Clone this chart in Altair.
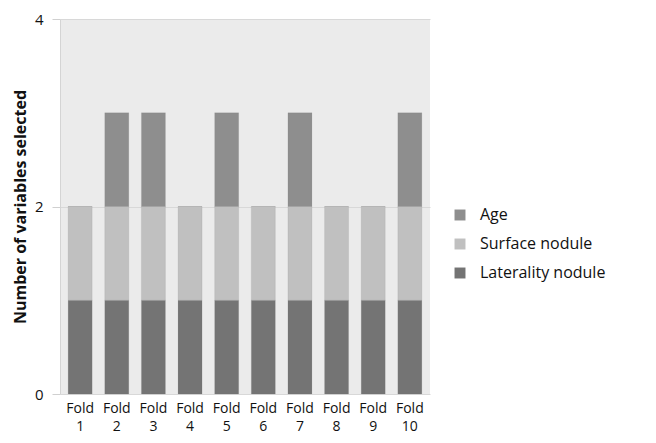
import altair as alt
import pandas as pd

folds = ["Fold 1", "Fold 2", "Fold 3", "Fold 4", "Fold 5", "Fold 6", "Fold 7", "Fold 8", "Fold 9", "Fold 10"]
laterality = [1, 1, 1, 1, 1, 1, 1, 1, 1, 1]
surface = [1, 1, 1, 1, 1, 1, 1, 1, 1, 1]
age = [0, 1, 1, 0, 1, 0, 1, 0, 0, 1]

series = ["Age", "Surface nodule", "Laterality nodule"]
colors = ["#8e8e8e", "#c0c0c0", "#747474"]

rows = []
for i, f in enumerate(folds):
    rows.append({"fold": f, "var": "Laterality nodule", "val": laterality[i], "ord": 0})
    rows.append({"fold": f, "var": "Surface nodule", "val": surface[i], "ord": 1})
    rows.append({"fold": f, "var": "Age", "val": age[i], "ord": 2})
df = pd.DataFrame(rows)

chart = alt.Chart(df).mark_bar(size=24, stroke="#7a7a7a", strokeOpacity=0.25, strokeWidth=0.5).encode(
    x=alt.X("fold:N", sort=folds, title=None,
            scale=alt.Scale(paddingInner=0.34, paddingOuter=0.22),
            axis=alt.Axis(labelExpr="split(datum.label, ' ')", labelAngle=0, labelFont="Open Sans",
                          labelFontSize=14, labelFontWeight=500, labelColor="#111", labelPadding=7,
                          ticks=False, domain=False, labelLineHeight=18)),
    y=alt.Y("val:Q", stack="zero", title="Number of variables selected",
            scale=alt.Scale(domain=[0, 4]),
            axis=alt.Axis(values=[0, 2, 4], labelFont="Open Sans", labelFontSize=15, labelColor="#111",
                          titleFont="Open Sans", titleFontSize=16, titleFontWeight="bold", titleColor="#111",
                          tickColor="#d0d0d0", tickSize=8, domainColor="#d4d4d4", gridColor="#d8d8d8",
                          labelPadding=9, titlePadding=6)),
    color=alt.Color("var:N", scale=alt.Scale(domain=series, range=colors),
                    legend=alt.Legend(title=None, orient="none", legendX=392, legendY=188,
                                      symbolType="square", symbolSize=120, symbolStrokeWidth=0,
                                      labelFont="Open Sans", labelFontSize=16, labelColor="#111",
                                      rowPadding=13, symbolOffset=0, labelOffset=12)),
    order=alt.Order("ord:Q"),
).properties(
    width=370, height=375,
    background="white",
    autosize=alt.AutoSizeParams(type="none"),
    padding={"left": 52, "top": 11, "right": 210, "bottom": 41},
).configure_view(fill="#ebebeb", strokeWidth=0)

chart.save("out.html", embed_options={"renderer": "svg", "actions": False})
